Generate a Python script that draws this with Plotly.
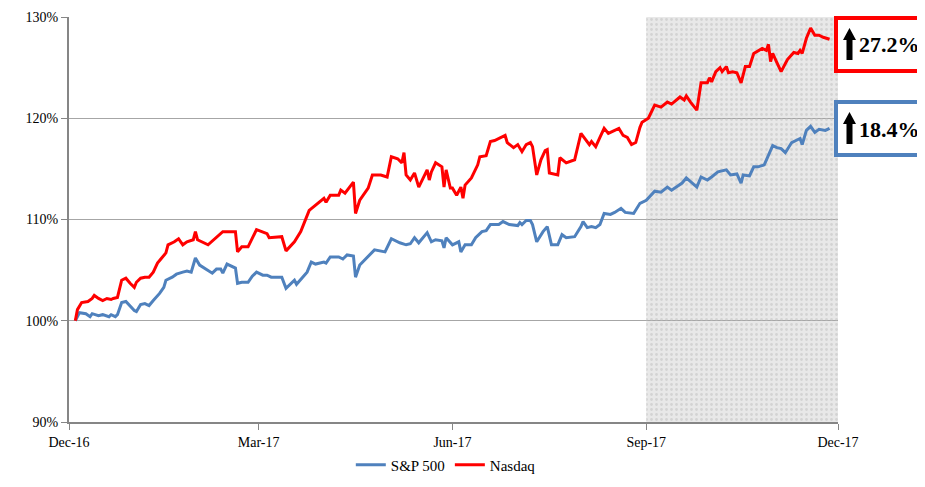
import plotly.graph_objects as go
from datetime import datetime

# ---------------- data ----------------
nasdaq_dates = [
    "2016-12-04","2016-12-05","2016-12-07","2016-12-10","2016-12-12","2016-12-13","2016-12-15","2016-12-17",
    "2016-12-19","2016-12-21","2016-12-22","2016-12-24","2016-12-26","2016-12-28","2016-12-30","2017-01-01",
    "2017-01-02","2017-01-04","2017-01-06","2017-01-08","2017-01-10","2017-01-12","2017-01-14","2017-01-16",
    "2017-01-17","2017-01-20","2017-01-22","2017-01-24","2017-01-26","2017-01-29","2017-01-30","2017-01-31",
    "2017-02-05","2017-02-09","2017-02-12","2017-02-15","2017-02-18","2017-02-19","2017-02-21","2017-02-24",
    "2017-02-28","2017-03-05","2017-03-06","2017-03-12","2017-03-14","2017-03-18","2017-03-21","2017-03-25",
    "2017-03-29","2017-04-01","2017-04-02","2017-04-04","2017-04-08","2017-04-09","2017-04-11","2017-04-13",
    "2017-04-15","2017-04-16","2017-04-18","2017-04-22","2017-04-24","2017-04-28","2017-05-01","2017-05-03",
    "2017-05-06","2017-05-08","2017-05-09","2017-05-10","2017-05-12","2017-05-14","2017-05-16","2017-05-20",
    "2017-05-21","2017-05-22","2017-05-24","2017-05-27","2017-05-28","2017-05-29","2017-05-31","2017-06-01",
    "2017-06-03","2017-06-05","2017-06-06","2017-06-07","2017-06-10","2017-06-13","2017-06-14","2017-06-17",
    "2017-06-19","2017-06-21","2017-06-24","2017-06-26","2017-06-27","2017-06-30","2017-07-02","2017-07-04",
    "2017-07-06","2017-07-08","2017-07-09","2017-07-11","2017-07-13","2017-07-15","2017-07-16","2017-07-17",
    "2017-07-21","2017-07-22","2017-07-25","2017-07-29","2017-08-01","2017-08-03","2017-08-05","2017-08-06",
    "2017-08-08","2017-08-10","2017-08-12","2017-08-14","2017-08-17","2017-08-19","2017-08-21","2017-08-23",
    "2017-08-25","2017-08-27","2017-08-29","2017-08-30","2017-09-02","2017-09-05","2017-09-08","2017-09-11",
    "2017-09-13","2017-09-15","2017-09-17","2017-09-19","2017-09-20","2017-09-22","2017-09-25","2017-09-27",
    "2017-09-30","2017-10-01","2017-10-02","2017-10-04","2017-10-06","2017-10-07","2017-10-09","2017-10-10",
    "2017-10-12","2017-10-14","2017-10-16","2017-10-18","2017-10-20","2017-10-22","2017-10-26","2017-10-28",
    "2017-10-29","2017-10-30","2017-10-31","2017-11-02","2017-11-04","2017-11-07","2017-11-10","2017-11-12",
    "2017-11-13","2017-11-14","2017-11-16","2017-11-18","2017-11-20","2017-11-22","2017-11-24","2017-11-27",
]
nasdaq_values = [
    100.0, 101.1, 101.8, 101.9, 102.2, 102.5, 102.2, 102.0,
    102.2, 102.1, 102.2, 102.3, 104.0, 104.2, 103.7, 103.3,
    103.8, 104.2, 104.3, 104.3, 104.8, 105.7, 106.2, 106.7,
    107.5, 107.8, 108.1, 107.5, 107.8, 108.0, 108.8, 108.0,
    107.5, 108.2, 108.8, 108.8, 108.8, 106.8, 107.3, 107.3,
    109.0, 108.6, 108.2, 108.3, 106.9, 107.8, 108.8, 110.9,
    111.6, 112.1, 111.7, 112.4, 112.4, 112.9, 112.6, 113.1,
    113.7, 110.6, 111.9, 113.1, 114.4, 114.4, 114.2, 116.2,
    116.0, 115.6, 116.6, 114.4, 113.9, 114.6, 113.2, 114.9,
    113.9, 114.7, 115.6, 115.2, 113.2, 114.9, 113.1, 113.1,
    112.4, 113.2, 112.1, 113.4, 114.1, 115.4, 116.2, 116.3,
    117.7, 117.8, 118.1, 118.3, 117.6, 117.1, 117.4, 116.7,
    117.4, 117.6, 117.2, 114.4, 115.9, 116.8, 116.9, 114.6,
    114.4, 116.1, 115.6, 115.9, 118.5, 117.9, 117.4, 117.7,
    117.2, 118.1, 119.0, 118.5, 118.8, 119.0, 118.3, 118.1,
    117.4, 117.6, 119.1, 119.6, 120.0, 121.3, 121.1, 121.6,
    121.4, 121.8, 122.1, 121.8, 122.2, 121.6, 120.8, 123.5,
    123.5, 124.0, 123.6, 124.6, 125.0, 124.6, 125.1, 124.5,
    124.6, 124.5, 123.5, 125.1, 125.1, 126.4, 126.9, 126.7,
    127.3, 125.6, 126.4, 125.5, 124.6, 125.8, 126.5, 126.4,
    126.7, 126.4, 127.9, 128.9, 128.2, 128.2, 128.0, 127.8,
]

sp500_dates = [
    "2016-12-04","2016-12-06","2016-12-09","2016-12-11","2016-12-12","2016-12-15","2016-12-17","2016-12-20",
    "2016-12-21","2016-12-23","2016-12-24","2016-12-26","2016-12-28","2016-12-30","2017-01-01","2017-01-02",
    "2017-01-04","2017-01-06","2017-01-08","2017-01-10","2017-01-13","2017-01-15","2017-01-16","2017-01-19",
    "2017-01-21","2017-01-24","2017-01-26","2017-01-28","2017-01-30","2017-02-01","2017-02-07","2017-02-09",
    "2017-02-11","2017-02-12","2017-02-14","2017-02-18","2017-02-19","2017-02-21","2017-02-24","2017-02-26",
    "2017-02-28","2017-03-03","2017-03-05","2017-03-07","2017-03-12","2017-03-14","2017-03-18","2017-03-19",
    "2017-03-22","2017-03-24","2017-03-26","2017-03-28","2017-04-01","2017-04-02","2017-04-04","2017-04-08",
    "2017-04-10","2017-04-12","2017-04-15","2017-04-16","2017-04-18","2017-04-22","2017-04-25","2017-04-30",
    "2017-05-03","2017-05-07","2017-05-10","2017-05-12","2017-05-14","2017-05-16","2017-05-20","2017-05-22",
    "2017-05-24","2017-05-27","2017-05-28","2017-05-29","2017-05-31","2017-06-01","2017-06-04","2017-06-05",
    "2017-06-07","2017-06-10","2017-06-12","2017-06-15","2017-06-17","2017-06-19","2017-06-23","2017-06-25",
    "2017-06-28","2017-07-02","2017-07-03","2017-07-04","2017-07-06","2017-07-08","2017-07-09","2017-07-11",
    "2017-07-14","2017-07-16","2017-07-18","2017-07-21","2017-07-23","2017-07-25","2017-07-29","2017-08-01",
    "2017-08-02","2017-08-04","2017-08-06","2017-08-08","2017-08-10","2017-08-12","2017-08-15","2017-08-17",
    "2017-08-20","2017-08-22","2017-08-26","2017-08-27","2017-08-29","2017-09-01","2017-09-05","2017-09-08",
    "2017-09-11","2017-09-13","2017-09-15","2017-09-18","2017-09-20","2017-09-22","2017-09-25","2017-09-27",
    "2017-09-30","2017-10-02","2017-10-05","2017-10-09","2017-10-11","2017-10-14","2017-10-16","2017-10-17",
    "2017-10-20","2017-10-22","2017-10-24","2017-10-27","2017-10-29","2017-10-31","2017-11-02","2017-11-04",
    "2017-11-06","2017-11-09","2017-11-12","2017-11-13","2017-11-14","2017-11-16","2017-11-18","2017-11-20",
    "2017-11-22","2017-11-25","2017-11-27",
]
sp500_values = [
    100.0, 100.8, 100.7, 100.4, 100.7, 100.5, 100.6, 100.4,
    100.6, 100.4, 100.6, 101.8, 101.9, 101.4, 101.0, 100.9,
    101.6, 101.7, 101.5, 102.0, 102.7, 103.3, 104.0, 104.3,
    104.6, 104.8, 104.9, 104.8, 106.2, 105.5, 104.7, 105.1,
    105.1, 104.7, 105.6, 105.2, 103.7, 103.8, 103.8, 104.4,
    104.8, 104.5, 104.5, 104.3, 104.3, 103.2, 104.0, 103.6,
    104.3, 104.8, 105.8, 105.6, 105.8, 105.7, 106.3, 106.3,
    106.1, 106.5, 106.4, 104.3, 105.5, 106.3, 107.0, 106.8,
    108.1, 107.7, 107.5, 107.6, 108.2, 107.7, 108.7, 107.8,
    108.0, 107.9, 107.2, 108.2, 107.8, 107.5, 107.8, 106.8,
    107.5, 107.5, 108.2, 108.8, 108.9, 109.5, 109.5, 109.8,
    109.5, 109.4, 109.7, 109.5, 109.9, 109.9, 109.5, 107.8,
    108.8, 109.3, 107.5, 107.5, 108.5, 108.2, 108.3, 109.3,
    109.8, 109.2, 109.3, 109.2, 109.5, 110.6, 110.5, 110.7,
    111.1, 110.7, 110.6, 110.9, 111.6, 111.9, 112.8, 112.7,
    113.2, 112.9, 113.2, 113.6, 114.1, 113.7, 113.2, 114.2,
    113.9, 114.2, 114.7, 114.9, 114.4, 114.5, 113.6, 114.4,
    114.3, 115.2, 115.2, 115.4, 116.4, 117.3, 117.1, 117.0,
    116.6, 117.6, 117.9, 118.0, 117.4, 118.8, 119.2, 118.6,
    118.9, 118.8, 119.0,
]

tick_dates = ["2016-12-01", "2017-03-01", "2017-06-01", "2017-09-01", "2017-12-01"]
tick_labels = ["Dec-16", "Mar-17", "Jun-17", "Sep-17", "Dec-17"]
x_range = ["2016-12-01", "2017-12-01"]
y_range = [90, 130]
highlight_start = "2017-09-01"
highlight_end = "2017-12-01"
nasdaq_gain = "27.2%"
sp500_gain = "18.4%"

RED = "#FF0000"
BLUE = "#4F81BD"
FONT = "Liberation Serif"

# the page body adds an 8px offset; size the figure so the plot lands where the reference has it
OFF = 8
W, H = 925 - OFF, 487 - OFF
ML, MT = 69 - OFF, 17 - OFF
PW, PH = 769, 405
MR, MB = W - ML - PW, H - MT - PH


def px(X):
    """reference-window pixel X -> paper x"""
    return (X - OFF - ML) / PW


def py(Y):
    """reference-window pixel Y -> paper y"""
    return (MT + PH - (Y - OFF)) / PH


def arrow_path(cx, top, bottom, head_h=12, head_hw=6.5, stem_hw=3):
    pts = [(cx, top), (cx + head_hw, top + head_h), (cx + stem_hw, top + head_h),
           (cx + stem_hw, bottom), (cx - stem_hw, bottom), (cx - stem_hw, top + head_h),
           (cx - head_hw, top + head_h)]
    return "M " + " L ".join(f"{px(a):.5f},{py(b):.5f}" for a, b in pts) + " Z"


fig = go.Figure()

# shaded period texture (dotted pattern over light grey)
hs = datetime.fromisoformat(highlight_start)
he = datetime.fromisoformat(highlight_end)
mid = hs + (he - hs) / 2
fig.add_trace(go.Bar(x=[mid], y=[y_range[1] - y_range[0]], base=[y_range[0]],
                     width=[(he - hs).total_seconds() * 1000],
                     marker=dict(color="rgba(0,0,0,0)", line=dict(width=0),
                                 pattern=dict(shape=".", fgcolor="#bdbdbd", bgcolor="rgba(0,0,0,0)",
                                              size=5, solidity=0.25)),
                     showlegend=False, hoverinfo="skip"))

fig.add_trace(go.Scatter(x=sp500_dates, y=sp500_values, mode="lines", name="S&P 500",
                         line=dict(color=BLUE, width=3)))
fig.add_trace(go.Scatter(x=nasdaq_dates, y=nasdaq_values, mode="lines", name="Nasdaq",
                         line=dict(color=RED, width=3)))

fig.add_shape(type="rect", xref="x", yref="paper", x0=highlight_start, x1=highlight_end,
              y0=0, y1=1, fillcolor="#e8e8e8", line=dict(width=0), layer="below")

# callout boxes
for txt, color, top in [(nasdaq_gain, RED, 18), (sp500_gain, BLUE, 102)]:
    bottom = top + 53
    fig.add_shape(type="rect", xref="paper", yref="paper", x0=px(836), x1=px(921),
                  y0=py(bottom), y1=py(top), fillcolor="white", line=dict(color=color, width=4))
    fig.add_shape(type="path", xref="paper", yref="paper", path=arrow_path(849.5, top + 10, top + 42),
                  fillcolor="black", line=dict(width=0))
    fig.add_annotation(xref="paper", yref="paper", x=px(889), y=py(top + 27),
                       xanchor="center", yanchor="middle", text="<b>" + txt + "</b>",
                       showarrow=False, font=dict(family=FONT, size=22, color="black"))

fig.update_layout(
    width=W, height=H,
    margin=dict(l=ML, r=MR, t=MT, b=MB, autoexpand=False),
    paper_bgcolor="white", plot_bgcolor="white",
    font=dict(family=FONT, size=14, color="black"),
    showlegend=True,
    legend=dict(orientation="h", x=0.49, xanchor="center", y=py(465), yanchor="middle",
                font=dict(family=FONT, size=15), itemwidth=30, tracegroupgap=0),
    xaxis=dict(type="date", range=x_range, tickvals=tick_dates, ticktext=tick_labels,
               showgrid=False, showline=True, linecolor="#868686", linewidth=2,
               ticks="outside", ticklen=6, tickcolor="#868686", tickwidth=1,
               tickfont=dict(family=FONT, size=14), zeroline=False),
    yaxis=dict(range=y_range, dtick=10, tick0=90, ticksuffix="%",
               showgrid=True, gridcolor="#a6a6a6", gridwidth=1,
               showline=True, linecolor="#868686", linewidth=2,
               ticks="outside", ticklen=6, tickcolor="#868686",
               tickfont=dict(family=FONT, size=14), zeroline=False),
)

fig.write_html("out.html")
